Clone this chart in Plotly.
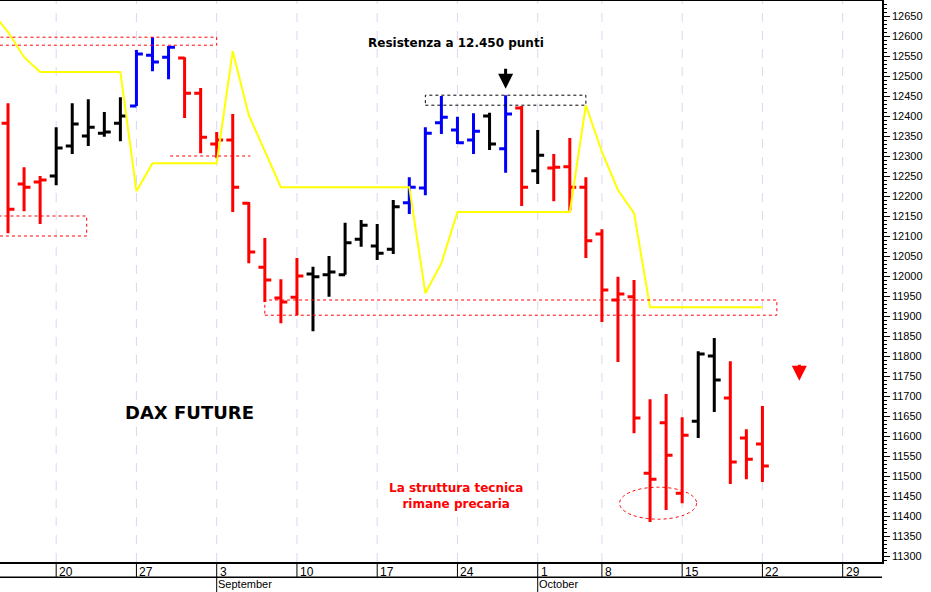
import plotly.graph_objects as go

days = ["Aug 15", "Aug 16", "Aug 17", "Aug 20", "Aug 21", "Aug 22", "Aug 23", "Aug 24",
        "Aug 27", "Aug 28", "Aug 29", "Aug 30", "Aug 31", "Sep 3", "Sep 4", "Sep 5", "Sep 6",
        "Sep 7", "Sep 10", "Sep 11", "Sep 12", "Sep 13", "Sep 14", "Sep 17", "Sep 18",
        "Sep 19", "Sep 20", "Sep 21", "Sep 24", "Sep 25", "Sep 26", "Sep 27", "Sep 28",
        "Oct 1", "Oct 2", "Oct 4", "Oct 5", "Oct 8", "Oct 9", "Oct 10", "Oct 11", "Oct 12",
        "Oct 15", "Oct 16", "Oct 17", "Oct 18", "Oct 19", "Oct 22"]
opens = [12382, 12230, 12235, 12250, 12325, 12350, 12357, 12382, 12425, 12552, 12547, 12545,
         12457, 12330, 12340, 12182, 12022, 11945, 11947, 12005, 12003, 12003, 12092, 12075,
         12067, 12183, 12220, 12383, 12365, 12340, 12400, 12318, 12420, 12263, 12270, 12273,
         12222, 12105, 11940, 11948, 11507, 11633, 11457, 11637, 11800, 11695, 11595, 11580]
highs = [12432, 12272, 12250, 12372, 12432, 12442, 12410, 12447, 12565, 12597, 12575, 12547,
         12470, 12360, 12405, 12185, 12095, 11992, 12045, 12023, 12050, 12133, 12140, 12130,
         12190, 12247, 12372, 12450, 12398, 12407, 12408, 12452, 12425, 12365, 12305, 12345,
         12247, 12117, 11998, 11990, 11692, 11705, 11647, 11812, 11845, 11787, 11617, 11675]
lows = [12107, 12162, 12130, 12227, 12305, 12325, 12348, 12337, 12425, 12512, 12492, 12395,
        12307, 12295, 12160, 12032, 11935, 11882, 11902, 11862, 11948, 12003, 12073, 12040,
        12055, 12155, 12202, 12355, 12330, 12305, 12315, 12258, 12175, 12230, 12187, 12163,
        12045, 11885, 11785, 11607, 11385, 11415, 11432, 11595, 11660, 11480, 11492, 11485]
closes = [12167, 12222, 12240, 12320, 12380, 12372, 12360, 12400, 12555, 12535, 12572, 12457,
          12347, 12340, 12222, 12060, 11990, 11935, 12000, 11998, 12010, 12083, 12127, 12057,
          12173, 12222, 12357, 12397, 12333, 12362, 12330, 12405, 12222, 12302, 12272, 12222,
          12088, 11965, 11955, 11645, 11492, 11552, 11602, 11805, 11740, 11535, 11542, 11525]
bar_colors = list("rrrkkkkkbbbrrrrrrrrkkkkkkbbbbbkbrkrrrrrrrrrkkrrr")
trend = [12610, 12547, 12510, 12510, 12510, 12510, 12510, 12510, 12212, 12282, 12282, 12282,
         12282, 12282, 12562, 12402, 12312, 12222, 12222, 12222, 12222, 12222, 12222, 12222,
         12222, 12222, 11957, 12032, 12160, 12160, 12160, 12160, 12160, 12160, 12160, 12160,
         12427, 12310, 12215, 12157, 11922, 11922, 11922, 11922, 11922, 11922, 11922, 11922]
week_idx = [3, 8, 13, 18, 23, 28, 33, 37, 42, 47, 52]
week_lbl = ["20", "27", "3", "10", "17", "24", "1", "8", "15", "22", "29"]
months = {"September": 13, "October": 33}

x = list(range(len(days)))
cmap = {"r": "#FF0000", "k": "#000000", "b": "#0000FF"}
fig = go.Figure()
for code, col in cmap.items():
    sel = [i for i in x if bar_colors[i] == code]
    fig.add_trace(go.Ohlc(
        x=sel, open=[opens[i] for i in sel], high=[highs[i] for i in sel],
        low=[lows[i] for i in sel], close=[closes[i] for i in sel],
        increasing=dict(line=dict(color=col, width=3)),
        decreasing=dict(line=dict(color=col, width=3)),
        tickwidth=0.4, hoverinfo="skip", showlegend=False))

fig.add_trace(go.Scatter(x=[-1] + x, y=[12660] + trend, mode="lines",
                         line=dict(color="#FFFF00", width=2), hoverinfo="skip", showlegend=False))

red_dash = dict(color="#FF0000", width=1, dash="dot")
fig.add_shape(type="rect", x0=-2, x1=13, y0=12577, y1=12597, line=red_dash)
fig.add_shape(type="rect", x0=-2, x1=4.9, y0=12100, y1=12150, line=red_dash)
fig.add_shape(type="line", x0=10.1, x1=15.1, y0=12300, y1=12300, line=red_dash)
fig.add_shape(type="rect", x0=16, x1=47.9, y0=11902, y1=11940, line=red_dash)
fig.add_shape(type="rect", x0=26, x1=36, y0=12427, y1=12452,
              line=dict(color="#000000", width=1, dash="dot"))
fig.add_shape(type="circle", x0=38.1, x1=42.9, y0=11392, y1=11472, line=red_dash)

for i in week_idx:
    fig.add_shape(type="line", x0=i, x1=i, y0=0, y1=1, yref="paper",
                  line=dict(color="#D8D8F0", width=1, dash="dash"), layer="below")
    fig.add_shape(type="line", x0=i, x1=i, y0=-0.027, y1=0, yref="paper",
                  line=dict(color="#000000", width=1))
for i, t in zip(week_idx, week_lbl):
    fig.add_annotation(x=i, y=-0.001, yref="paper", text=t, showarrow=False,
                       xanchor="left", yanchor="top", xshift=1,
                       font=dict(family="Liberation Sans", size=12, color="#000"))
for m, i in months.items():
    fig.add_annotation(x=i, y=-0.027, yref="paper", text=m, showarrow=False,
                       xanchor="left", yanchor="top", xshift=0, borderpad=0,
                       font=dict(family="Liberation Sans", size=11, color="#000"))
    fig.add_shape(type="line", x0=i, x1=i, y0=-0.06, y1=-0.027, yref="paper",
                  line=dict(color="#000000", width=1))
fig.add_shape(type="line", x0=0, x1=1, xref="paper", y0=-0.027, y1=-0.027, yref="paper",
              line=dict(color="#000000", width=1.5))

# arrows
fig.add_annotation(x=31, y=12468, ax=31, ay=12522, axref="x", ayref="y", text="",
                   showarrow=True, arrowhead=2, arrowsize=1, arrowwidth=3, arrowcolor="#000")
fig.add_annotation(x=49.3, y=11738, ax=49.3, ay=11782, axref="x", ayref="y", text="",
                   showarrow=True, arrowhead=2, arrowsize=1, arrowwidth=3, arrowcolor="#FF0000")

fig.add_annotation(x=27.9, y=12583, text="<b>Resistenza a 12.450 punti</b>", showarrow=False,
                   font=dict(family="DejaVu Sans", size=12, color="#000"))
fig.add_annotation(x=11.3, y=11658, text="<b>DAX FUTURE</b>", showarrow=False,
                   font=dict(family="DejaVu Sans", size=18, color="#000"))
fig.add_annotation(x=27.9, y=11450, text="<b>La struttura tecnica<br>rimane precaria</b>",
                   showarrow=False,
                   font=dict(family="DejaVu Sans", size=12, color="#FF0000"))

fig.update_xaxes(range=[-0.5, 54.45], showticklabels=False, showgrid=False, zeroline=False,
                 showline=True, linecolor="#000", linewidth=1.5, mirror=True, automargin=False)
fig.update_yaxes(side="right", range=[11285, 12687.5], tickvals=list(range(11300, 12651, 50)),
                 tickformat="d", automargin=False,
                 ticks="outside", ticklen=6, tickcolor="#000", showgrid=False, zeroline=False,
                 showline=True, linecolor="#000", linewidth=1.5,
                 minor=dict(dtick=10, ticks="outside", ticklen=3, tickcolor="#000"),
                 tickfont=dict(family="Liberation Sans", size=11, color="#000"))
fig.update_layout(width=931, height=592, margin=dict(l=0, r=49, t=1, b=30),
                  plot_bgcolor="white", paper_bgcolor="white",
                  xaxis_rangeslider_visible=False)
fig.write_html("out.html", config={"displayModeBar": False},
               post_script="document.body.style.margin='0';")
